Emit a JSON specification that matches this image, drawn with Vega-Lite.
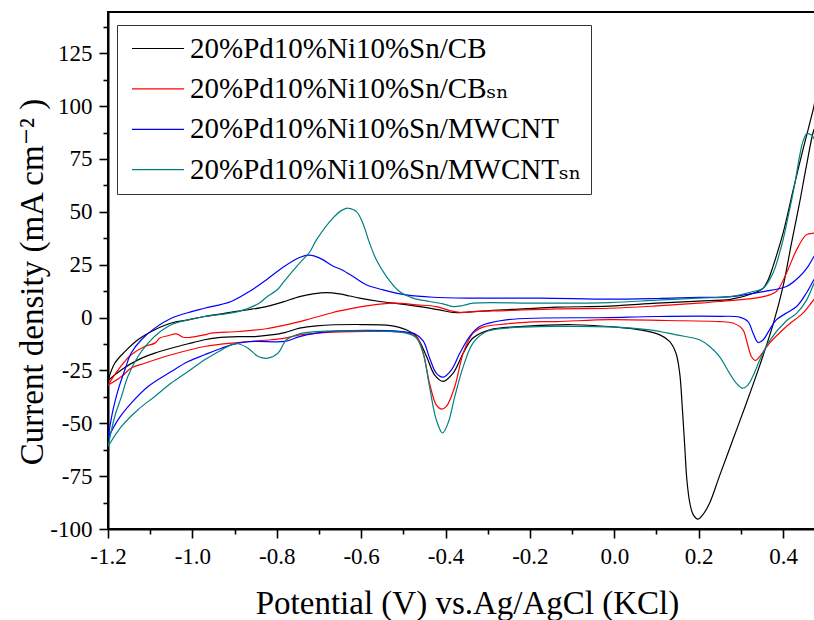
{
"$schema": "https://vega.github.io/schema/vega-lite/v6.json",
"width": 707, "height": 517,
"autosize": {"type": "none"},
"padding": {"left": 108, "top": 12, "right": 0, "bottom": 91},
"background": "white",
"config": {
 "view": {"stroke": "black", "strokeWidth": 2},
 "font": "Liberation Serif, Times New Roman, Tinos, DejaVu Serif, serif",
 "axis": {"grid": false, "domainColor": "black", "domainWidth": 2, "tickColor": "black", "tickWidth": 1.6,
  "labelColor": "black", "labelFont": "Liberation Serif, Times New Roman, Tinos, DejaVu Serif, serif", "labelFontSize": 23, "labelFlush": false, "labelOverlap": false, "labelBound": false,
  "titleFont": "Liberation Serif, Times New Roman, Tinos, DejaVu Serif, serif", "titleFontWeight": "normal", "titleColor": "black"},
 "legend": {"labelFont": "Liberation Serif, Times New Roman, Tinos, DejaVu Serif, serif"}
},
"data": {"values": [
{"s":"20%Pd10%Ni10%Sn/CB","o":1,"E":-1.2,"j":-29.8},
{"s":"20%Pd10%Ni10%Sn/CB","o":2,"E":-1.184,"j":-21.6},
{"s":"20%Pd10%Ni10%Sn/CB","o":3,"E":-1.16,"j":-16.1},
{"s":"20%Pd10%Ni10%Sn/CB","o":4,"E":-1.129,"j":-10.5},
{"s":"20%Pd10%Ni10%Sn/CB","o":5,"E":-1.089,"j":-5.8},
{"s":"20%Pd10%Ni10%Sn/CB","o":6,"E":-1.05,"j":-2.6},
{"s":"20%Pd10%Ni10%Sn/CB","o":7,"E":-1.01,"j":-1.1},
{"s":"20%Pd10%Ni10%Sn/CB","o":8,"E":-0.971,"j":0.5},
{"s":"20%Pd10%Ni10%Sn/CB","o":9,"E":-0.93,"j":1.8},
{"s":"20%Pd10%Ni10%Sn/CB","o":10,"E":-0.892,"j":3.0},
{"s":"20%Pd10%Ni10%Sn/CB","o":11,"E":-0.864,"j":3.8},
{"s":"20%Pd10%Ni10%Sn/CB","o":12,"E":-0.825,"j":5.2},
{"s":"20%Pd10%Ni10%Sn/CB","o":13,"E":-0.785,"j":7.4},
{"s":"20%Pd10%Ni10%Sn/CB","o":14,"E":-0.746,"j":9.9},
{"s":"20%Pd10%Ni10%Sn/CB","o":15,"E":-0.714,"j":11.2},
{"s":"20%Pd10%Ni10%Sn/CB","o":16,"E":-0.682,"j":11.8},
{"s":"20%Pd10%Ni10%Sn/CB","o":17,"E":-0.651,"j":11.2},
{"s":"20%Pd10%Ni10%Sn/CB","o":18,"E":-0.627,"j":10.2},
{"s":"20%Pd10%Ni10%Sn/CB","o":19,"E":-0.604,"j":9.2},
{"s":"20%Pd10%Ni10%Sn/CB","o":20,"E":-0.556,"j":7.6},
{"s":"20%Pd10%Ni10%Sn/CB","o":21,"E":-0.509,"j":6.5},
{"s":"20%Pd10%Ni10%Sn/CB","o":22,"E":-0.461,"j":5.2},
{"s":"20%Pd10%Ni10%Sn/CB","o":23,"E":-0.414,"j":3.6},
{"s":"20%Pd10%Ni10%Sn/CB","o":24,"E":-0.382,"j":2.4},
{"s":"20%Pd10%Ni10%Sn/CB","o":25,"E":-0.351,"j":2.5},
{"s":"20%Pd10%Ni10%Sn/CB","o":26,"E":-0.295,"j":3.3},
{"s":"20%Pd10%Ni10%Sn/CB","o":27,"E":-0.216,"j":4.1},
{"s":"20%Pd10%Ni10%Sn/CB","o":28,"E":-0.137,"j":4.9},
{"s":"20%Pd10%Ni10%Sn/CB","o":29,"E":-0.011,"j":5.4},
{"s":"20%Pd10%Ni10%Sn/CB","o":30,"E":0.1,"j":6.8},
{"s":"20%Pd10%Ni10%Sn/CB","o":31,"E":0.2,"j":7.8},
{"s":"20%Pd10%Ni10%Sn/CB","o":32,"E":0.275,"j":8.6},
{"s":"20%Pd10%Ni10%Sn/CB","o":33,"E":0.33,"j":11.5},
{"s":"20%Pd10%Ni10%Sn/CB","o":34,"E":0.353,"j":13.9},
{"s":"20%Pd10%Ni10%Sn/CB","o":35,"E":0.365,"j":18},
{"s":"20%Pd10%Ni10%Sn/CB","o":36,"E":0.376,"j":24.1},
{"s":"20%Pd10%Ni10%Sn/CB","o":37,"E":0.4,"j":39.9},
{"s":"20%Pd10%Ni10%Sn/CB","o":38,"E":0.424,"j":60.4},
{"s":"20%Pd10%Ni10%Sn/CB","o":39,"E":0.447,"j":79.3},
{"s":"20%Pd10%Ni10%Sn/CB","o":40,"E":0.473,"j":99.7},
{"s":"20%Pd10%Ni10%Sn/CB","o":41,"E":0.477,"j":104},
{"s":"20%Pd10%Ni10%Sn/CB","o":42,"E":0.477,"j":90},
{"s":"20%Pd10%Ni10%Sn/CB","o":43,"E":0.473,"j":88.7},
{"s":"20%Pd10%Ni10%Sn/CB","o":44,"E":0.455,"j":71.4},
{"s":"20%Pd10%Ni10%Sn/CB","o":45,"E":0.439,"j":54.1},
{"s":"20%Pd10%Ni10%Sn/CB","o":46,"E":0.42,"j":35.2},
{"s":"20%Pd10%Ni10%Sn/CB","o":47,"E":0.4,"j":14.7},
{"s":"20%Pd10%Ni10%Sn/CB","o":48,"E":0.376,"j":-3.5},
{"s":"20%Pd10%Ni10%Sn/CB","o":49,"E":0.345,"j":-22.5},
{"s":"20%Pd10%Ni10%Sn/CB","o":50,"E":0.313,"j":-40.5},
{"s":"20%Pd10%Ni10%Sn/CB","o":51,"E":0.281,"j":-57.8},
{"s":"20%Pd10%Ni10%Sn/CB","o":52,"E":0.249,"j":-75.1},
{"s":"20%Pd10%Ni10%Sn/CB","o":53,"E":0.226,"j":-87.7},
{"s":"20%Pd10%Ni10%Sn/CB","o":54,"E":0.21,"j":-93.2},
{"s":"20%Pd10%Ni10%Sn/CB","o":55,"E":0.198,"j":-95.3},
{"s":"20%Pd10%Ni10%Sn/CB","o":56,"E":0.187,"j":-93.2},
{"s":"20%Pd10%Ni10%Sn/CB","o":57,"E":0.179,"j":-87.7},
{"s":"20%Pd10%Ni10%Sn/CB","o":58,"E":0.172,"j":-76.7},
{"s":"20%Pd10%Ni10%Sn/CB","o":59,"E":0.167,"j":-61},
{"s":"20%Pd10%Ni10%Sn/CB","o":60,"E":0.161,"j":-42},
{"s":"20%Pd10%Ni10%Sn/CB","o":61,"E":0.155,"j":-26.3},
{"s":"20%Pd10%Ni10%Sn/CB","o":62,"E":0.146,"j":-16.8},
{"s":"20%Pd10%Ni10%Sn/CB","o":63,"E":0.131,"j":-11.3},
{"s":"20%Pd10%Ni10%Sn/CB","o":64,"E":0.108,"j":-8.2},
{"s":"20%Pd10%Ni10%Sn/CB","o":65,"E":0.06,"j":-5.8},
{"s":"20%Pd10%Ni10%Sn/CB","o":66,"E":0.005,"j":-4.5},
{"s":"20%Pd10%Ni10%Sn/CB","o":67,"E":-0.098,"j":-3.4},
{"s":"20%Pd10%Ni10%Sn/CB","o":68,"E":-0.216,"j":-4.2},
{"s":"20%Pd10%Ni10%Sn/CB","o":69,"E":-0.295,"j":-5.8},
{"s":"20%Pd10%Ni10%Sn/CB","o":70,"E":-0.335,"j":-9.7},
{"s":"20%Pd10%Ni10%Sn/CB","o":71,"E":-0.358,"j":-16.8},
{"s":"20%Pd10%Ni10%Sn/CB","o":72,"E":-0.382,"j":-26.3},
{"s":"20%Pd10%Ni10%Sn/CB","o":73,"E":-0.406,"j":-30.2},
{"s":"20%Pd10%Ni10%Sn/CB","o":74,"E":-0.426,"j":-27.1},
{"s":"20%Pd10%Ni10%Sn/CB","o":75,"E":-0.445,"j":-18.4},
{"s":"20%Pd10%Ni10%Sn/CB","o":76,"E":-0.469,"j":-9},
{"s":"20%Pd10%Ni10%Sn/CB","o":77,"E":-0.493,"j":-5.8},
{"s":"20%Pd10%Ni10%Sn/CB","o":78,"E":-0.53,"j":-3.8},
{"s":"20%Pd10%Ni10%Sn/CB","o":79,"E":-0.6,"j":-3.3},
{"s":"20%Pd10%Ni10%Sn/CB","o":80,"E":-0.706,"j":-3.9},
{"s":"20%Pd10%Ni10%Sn/CB","o":81,"E":-0.746,"j":-5},
{"s":"20%Pd10%Ni10%Sn/CB","o":82,"E":-0.781,"j":-7.1},
{"s":"20%Pd10%Ni10%Sn/CB","o":83,"E":-0.813,"j":-8.2},
{"s":"20%Pd10%Ni10%Sn/CB","o":84,"E":-0.852,"j":-9},
{"s":"20%Pd10%Ni10%Sn/CB","o":85,"E":-0.892,"j":-9},
{"s":"20%Pd10%Ni10%Sn/CB","o":86,"E":-0.943,"j":-9.6},
{"s":"20%Pd10%Ni10%Sn/CB","o":87,"E":-0.971,"j":-10.5},
{"s":"20%Pd10%Ni10%Sn/CB","o":88,"E":-1.01,"j":-12.4},
{"s":"20%Pd10%Ni10%Sn/CB","o":89,"E":-1.05,"j":-14.5},
{"s":"20%Pd10%Ni10%Sn/CB","o":90,"E":-1.089,"j":-16.8},
{"s":"20%Pd10%Ni10%Sn/CB","o":91,"E":-1.129,"j":-20},
{"s":"20%Pd10%Ni10%Sn/CB","o":92,"E":-1.168,"j":-24.7},
{"s":"20%Pd10%Ni10%Sn/CB","o":93,"E":-1.2,"j":-29.8},
{"s":"20%Pd10%Ni10%Sn/CBₛₙ","o":1,"E":-1.2,"j":-32},
{"s":"20%Pd10%Ni10%Sn/CBₛₙ","o":2,"E":-1.176,"j":-24.7},
{"s":"20%Pd10%Ni10%Sn/CBₛₙ","o":3,"E":-1.145,"j":-17.6},
{"s":"20%Pd10%Ni10%Sn/CBₛₙ","o":4,"E":-1.113,"j":-13.7},
{"s":"20%Pd10%Ni10%Sn/CBₛₙ","o":5,"E":-1.089,"j":-12.1},
{"s":"20%Pd10%Ni10%Sn/CBₛₙ","o":6,"E":-1.077,"j":-9.7},
{"s":"20%Pd10%Ni10%Sn/CBₛₙ","o":7,"E":-1.058,"j":-8.6},
{"s":"20%Pd10%Ni10%Sn/CBₛₙ","o":8,"E":-1.038,"j":-7.7},
{"s":"20%Pd10%Ni10%Sn/CBₛₙ","o":9,"E":-1.022,"j":-9.3},
{"s":"20%Pd10%Ni10%Sn/CBₛₙ","o":10,"E":-1.002,"j":-9.3},
{"s":"20%Pd10%Ni10%Sn/CBₛₙ","o":11,"E":-0.971,"j":-8.2},
{"s":"20%Pd10%Ni10%Sn/CBₛₙ","o":12,"E":-0.955,"j":-7.4},
{"s":"20%Pd10%Ni10%Sn/CBₛₙ","o":13,"E":-0.892,"j":-6.6},
{"s":"20%Pd10%Ni10%Sn/CBₛₙ","o":14,"E":-0.825,"j":-5.3},
{"s":"20%Pd10%Ni10%Sn/CBₛₙ","o":15,"E":-0.781,"j":-3.6},
{"s":"20%Pd10%Ni10%Sn/CBₛₙ","o":16,"E":-0.73,"j":-1.1},
{"s":"20%Pd10%Ni10%Sn/CBₛₙ","o":17,"E":-0.667,"j":2.4},
{"s":"20%Pd10%Ni10%Sn/CBₛₙ","o":18,"E":-0.627,"j":4.1},
{"s":"20%Pd10%Ni10%Sn/CBₛₙ","o":19,"E":-0.588,"j":5.5},
{"s":"20%Pd10%Ni10%Sn/CBₛₙ","o":20,"E":-0.524,"j":6.8},
{"s":"20%Pd10%Ni10%Sn/CBₛₙ","o":21,"E":-0.469,"j":6.0},
{"s":"20%Pd10%Ni10%Sn/CBₛₙ","o":22,"E":-0.422,"j":5.2},
{"s":"20%Pd10%Ni10%Sn/CBₛₙ","o":23,"E":-0.39,"j":3.3},
{"s":"20%Pd10%Ni10%Sn/CBₛₙ","o":24,"E":-0.366,"j":2.4},
{"s":"20%Pd10%Ni10%Sn/CBₛₙ","o":25,"E":-0.335,"j":2.8},
{"s":"20%Pd10%Ni10%Sn/CBₛₙ","o":26,"E":-0.256,"j":3.3},
{"s":"20%Pd10%Ni10%Sn/CBₛₙ","o":27,"E":-0.137,"j":4.1},
{"s":"20%Pd10%Ni10%Sn/CBₛₙ","o":28,"E":-0.011,"j":4.4},
{"s":"20%Pd10%Ni10%Sn/CBₛₙ","o":29,"E":0.1,"j":5.5},
{"s":"20%Pd10%Ni10%Sn/CBₛₙ","o":30,"E":0.2,"j":6.8},
{"s":"20%Pd10%Ni10%Sn/CBₛₙ","o":31,"E":0.249,"j":7.6},
{"s":"20%Pd10%Ni10%Sn/CBₛₙ","o":32,"E":0.353,"j":9.9},
{"s":"20%Pd10%Ni10%Sn/CBₛₙ","o":33,"E":0.384,"j":12.3},
{"s":"20%Pd10%Ni10%Sn/CBₛₙ","o":34,"E":0.408,"j":21},
{"s":"20%Pd10%Ni10%Sn/CBₛₙ","o":35,"E":0.432,"j":32},
{"s":"20%Pd10%Ni10%Sn/CBₛₙ","o":36,"E":0.455,"j":39.1},
{"s":"20%Pd10%Ni10%Sn/CBₛₙ","o":37,"E":0.473,"j":39.9},
{"s":"20%Pd10%Ni10%Sn/CBₛₙ","o":38,"E":0.477,"j":40},
{"s":"20%Pd10%Ni10%Sn/CBₛₙ","o":39,"E":0.477,"j":9},
{"s":"20%Pd10%Ni10%Sn/CBₛₙ","o":40,"E":0.473,"j":8.4},
{"s":"20%Pd10%Ni10%Sn/CBₛₙ","o":41,"E":0.447,"j":2.1},
{"s":"20%Pd10%Ni10%Sn/CBₛₙ","o":42,"E":0.408,"j":-4.2},
{"s":"20%Pd10%Ni10%Sn/CBₛₙ","o":43,"E":0.368,"j":-12.1},
{"s":"20%Pd10%Ni10%Sn/CBₛₙ","o":44,"E":0.345,"j":-18.4},
{"s":"20%Pd10%Ni10%Sn/CBₛₙ","o":45,"E":0.335,"j":-20.3},
{"s":"20%Pd10%Ni10%Sn/CBₛₙ","o":46,"E":0.325,"j":-18.4},
{"s":"20%Pd10%Ni10%Sn/CBₛₙ","o":47,"E":0.313,"j":-10.5},
{"s":"20%Pd10%Ni10%Sn/CBₛₙ","o":48,"E":0.305,"j":-5.8},
{"s":"20%Pd10%Ni10%Sn/CBₛₙ","o":49,"E":0.281,"j":-2.6},
{"s":"20%Pd10%Ni10%Sn/CBₛₙ","o":50,"E":0.249,"j":-1.9},
{"s":"20%Pd10%Ni10%Sn/CBₛₙ","o":51,"E":0.124,"j":-1.4},
{"s":"20%Pd10%Ni10%Sn/CBₛₙ","o":52,"E":-0.011,"j":-1.0},
{"s":"20%Pd10%Ni10%Sn/CBₛₙ","o":53,"E":-0.137,"j":-1.9},
{"s":"20%Pd10%Ni10%Sn/CBₛₙ","o":54,"E":-0.193,"j":-2.0},
{"s":"20%Pd10%Ni10%Sn/CBₛₙ","o":55,"E":-0.256,"j":-3.0},
{"s":"20%Pd10%Ni10%Sn/CBₛₙ","o":56,"E":-0.311,"j":-4.5},
{"s":"20%Pd10%Ni10%Sn/CBₛₙ","o":57,"E":-0.335,"j":-7.4},
{"s":"20%Pd10%Ni10%Sn/CBₛₙ","o":58,"E":-0.358,"j":-16.8},
{"s":"20%Pd10%Ni10%Sn/CBₛₙ","o":59,"E":-0.378,"j":-32.6},
{"s":"20%Pd10%Ni10%Sn/CBₛₙ","o":60,"E":-0.398,"j":-42},
{"s":"20%Pd10%Ni10%Sn/CBₛₙ","o":61,"E":-0.41,"j":-43.3},
{"s":"20%Pd10%Ni10%Sn/CBₛₙ","o":62,"E":-0.422,"j":-41.3},
{"s":"20%Pd10%Ni10%Sn/CBₛₙ","o":63,"E":-0.438,"j":-31},
{"s":"20%Pd10%Ni10%Sn/CBₛₙ","o":64,"E":-0.453,"j":-16.8},
{"s":"20%Pd10%Ni10%Sn/CBₛₙ","o":65,"E":-0.469,"j":-9},
{"s":"20%Pd10%Ni10%Sn/CBₛₙ","o":66,"E":-0.493,"j":-7.1},
{"s":"20%Pd10%Ni10%Sn/CBₛₙ","o":67,"E":-0.572,"j":-6.6},
{"s":"20%Pd10%Ni10%Sn/CBₛₙ","o":68,"E":-0.651,"j":-6.8},
{"s":"20%Pd10%Ni10%Sn/CBₛₙ","o":69,"E":-0.706,"j":-7.4},
{"s":"20%Pd10%Ni10%Sn/CBₛₙ","o":70,"E":-0.746,"j":-8.2},
{"s":"20%Pd10%Ni10%Sn/CBₛₙ","o":71,"E":-0.781,"j":-9.7},
{"s":"20%Pd10%Ni10%Sn/CBₛₙ","o":72,"E":-0.813,"j":-10.5},
{"s":"20%Pd10%Ni10%Sn/CBₛₙ","o":73,"E":-0.892,"j":-11.8},
{"s":"20%Pd10%Ni10%Sn/CBₛₙ","o":74,"E":-0.971,"j":-13.7},
{"s":"20%Pd10%Ni10%Sn/CBₛₙ","o":75,"E":-1.05,"j":-17.6},
{"s":"20%Pd10%Ni10%Sn/CBₛₙ","o":76,"E":-1.113,"j":-21.6},
{"s":"20%Pd10%Ni10%Sn/CBₛₙ","o":77,"E":-1.145,"j":-23.9},
{"s":"20%Pd10%Ni10%Sn/CBₛₙ","o":78,"E":-1.168,"j":-27.9},
{"s":"20%Pd10%Ni10%Sn/CBₛₙ","o":79,"E":-1.2,"j":-32},
{"s":"20%Pd10%Ni10%Sn/MWCNT","o":1,"E":-1.2,"j":-57},
{"s":"20%Pd10%Ni10%Sn/MWCNT","o":2,"E":-1.188,"j":-43.6},
{"s":"20%Pd10%Ni10%Sn/MWCNT","o":3,"E":-1.176,"j":-34.2},
{"s":"20%Pd10%Ni10%Sn/MWCNT","o":4,"E":-1.16,"j":-24.7},
{"s":"20%Pd10%Ni10%Sn/MWCNT","o":5,"E":-1.145,"j":-16.8},
{"s":"20%Pd10%Ni10%Sn/MWCNT","o":6,"E":-1.121,"j":-10.5},
{"s":"20%Pd10%Ni10%Sn/MWCNT","o":7,"E":-1.089,"j":-5.0},
{"s":"20%Pd10%Ni10%Sn/MWCNT","o":8,"E":-1.05,"j":-0.3},
{"s":"20%Pd10%Ni10%Sn/MWCNT","o":9,"E":-1.002,"j":2.8},
{"s":"20%Pd10%Ni10%Sn/MWCNT","o":10,"E":-0.971,"j":4.4},
{"s":"20%Pd10%Ni10%Sn/MWCNT","o":11,"E":-0.908,"j":7.6},
{"s":"20%Pd10%Ni10%Sn/MWCNT","o":12,"E":-0.862,"j":12.7},
{"s":"20%Pd10%Ni10%Sn/MWCNT","o":13,"E":-0.825,"j":17.8},
{"s":"20%Pd10%Ni10%Sn/MWCNT","o":14,"E":-0.785,"j":23.8},
{"s":"20%Pd10%Ni10%Sn/MWCNT","o":15,"E":-0.746,"j":28.4},
{"s":"20%Pd10%Ni10%Sn/MWCNT","o":16,"E":-0.722,"j":29.5},
{"s":"20%Pd10%Ni10%Sn/MWCNT","o":17,"E":-0.698,"j":28.1},
{"s":"20%Pd10%Ni10%Sn/MWCNT","o":18,"E":-0.667,"j":24.4},
{"s":"20%Pd10%Ni10%Sn/MWCNT","o":19,"E":-0.645,"j":22.5},
{"s":"20%Pd10%Ni10%Sn/MWCNT","o":20,"E":-0.619,"j":19.4},
{"s":"20%Pd10%Ni10%Sn/MWCNT","o":21,"E":-0.588,"j":15.5},
{"s":"20%Pd10%Ni10%Sn/MWCNT","o":22,"E":-0.548,"j":13.1},
{"s":"20%Pd10%Ni10%Sn/MWCNT","o":23,"E":-0.493,"j":10.7},
{"s":"20%Pd10%Ni10%Sn/MWCNT","o":24,"E":-0.43,"j":9.6},
{"s":"20%Pd10%Ni10%Sn/MWCNT","o":25,"E":-0.335,"j":9.2},
{"s":"20%Pd10%Ni10%Sn/MWCNT","o":26,"E":-0.177,"j":9.2},
{"s":"20%Pd10%Ni10%Sn/MWCNT","o":27,"E":-0.011,"j":8.7},
{"s":"20%Pd10%Ni10%Sn/MWCNT","o":28,"E":0.1,"j":9.0},
{"s":"20%Pd10%Ni10%Sn/MWCNT","o":29,"E":0.2,"j":9.5},
{"s":"20%Pd10%Ni10%Sn/MWCNT","o":30,"E":0.275,"j":9.9},
{"s":"20%Pd10%Ni10%Sn/MWCNT","o":31,"E":0.353,"j":12.3},
{"s":"20%Pd10%Ni10%Sn/MWCNT","o":32,"E":0.408,"j":14.7},
{"s":"20%Pd10%Ni10%Sn/MWCNT","o":33,"E":0.439,"j":19.4},
{"s":"20%Pd10%Ni10%Sn/MWCNT","o":34,"E":0.459,"j":24.1},
{"s":"20%Pd10%Ni10%Sn/MWCNT","o":35,"E":0.473,"j":28.8},
{"s":"20%Pd10%Ni10%Sn/MWCNT","o":36,"E":0.477,"j":30},
{"s":"20%Pd10%Ni10%Sn/MWCNT","o":37,"E":0.477,"j":19},
{"s":"20%Pd10%Ni10%Sn/MWCNT","o":38,"E":0.473,"j":17.8},
{"s":"20%Pd10%Ni10%Sn/MWCNT","o":39,"E":0.455,"j":11.5},
{"s":"20%Pd10%Ni10%Sn/MWCNT","o":40,"E":0.432,"j":5.2},
{"s":"20%Pd10%Ni10%Sn/MWCNT","o":41,"E":0.408,"j":2.1},
{"s":"20%Pd10%Ni10%Sn/MWCNT","o":42,"E":0.384,"j":-1.1},
{"s":"20%Pd10%Ni10%Sn/MWCNT","o":43,"E":0.368,"j":-5.8},
{"s":"20%Pd10%Ni10%Sn/MWCNT","o":44,"E":0.353,"j":-10.5},
{"s":"20%Pd10%Ni10%Sn/MWCNT","o":45,"E":0.341,"j":-11.8},
{"s":"20%Pd10%Ni10%Sn/MWCNT","o":46,"E":0.329,"j":-7.4},
{"s":"20%Pd10%Ni10%Sn/MWCNT","o":47,"E":0.317,"j":-1.9},
{"s":"20%Pd10%Ni10%Sn/MWCNT","o":48,"E":0.297,"j":0.2},
{"s":"20%Pd10%Ni10%Sn/MWCNT","o":49,"E":0.249,"j":0.6},
{"s":"20%Pd10%Ni10%Sn/MWCNT","o":50,"E":0.1,"j":0.5},
{"s":"20%Pd10%Ni10%Sn/MWCNT","o":51,"E":-0.011,"j":0},
{"s":"20%Pd10%Ni10%Sn/MWCNT","o":52,"E":-0.256,"j":-1.1},
{"s":"20%Pd10%Ni10%Sn/MWCNT","o":53,"E":-0.319,"j":-4.2},
{"s":"20%Pd10%Ni10%Sn/MWCNT","o":54,"E":-0.343,"j":-9.0},
{"s":"20%Pd10%Ni10%Sn/MWCNT","o":55,"E":-0.366,"j":-16.8},
{"s":"20%Pd10%Ni10%Sn/MWCNT","o":56,"E":-0.386,"j":-24.7},
{"s":"20%Pd10%Ni10%Sn/MWCNT","o":57,"E":-0.406,"j":-28.2},
{"s":"20%Pd10%Ni10%Sn/MWCNT","o":58,"E":-0.422,"j":-26.3},
{"s":"20%Pd10%Ni10%Sn/MWCNT","o":59,"E":-0.438,"j":-19},
{"s":"20%Pd10%Ni10%Sn/MWCNT","o":60,"E":-0.453,"j":-11},
{"s":"20%Pd10%Ni10%Sn/MWCNT","o":61,"E":-0.473,"j":-7.7},
{"s":"20%Pd10%Ni10%Sn/MWCNT","o":62,"E":-0.509,"j":-6.5},
{"s":"20%Pd10%Ni10%Sn/MWCNT","o":63,"E":-0.651,"j":-6.3},
{"s":"20%Pd10%Ni10%Sn/MWCNT","o":64,"E":-0.706,"j":-7.4},
{"s":"20%Pd10%Ni10%Sn/MWCNT","o":65,"E":-0.746,"j":-9.0},
{"s":"20%Pd10%Ni10%Sn/MWCNT","o":66,"E":-0.781,"j":-11.3},
{"s":"20%Pd10%Ni10%Sn/MWCNT","o":67,"E":-0.852,"j":-11.3},
{"s":"20%Pd10%Ni10%Sn/MWCNT","o":68,"E":-0.892,"j":-12.1},
{"s":"20%Pd10%Ni10%Sn/MWCNT","o":69,"E":-0.931,"j":-14.5},
{"s":"20%Pd10%Ni10%Sn/MWCNT","o":70,"E":-0.971,"j":-17.6},
{"s":"20%Pd10%Ni10%Sn/MWCNT","o":71,"E":-1.01,"j":-20.8},
{"s":"20%Pd10%Ni10%Sn/MWCNT","o":72,"E":-1.05,"j":-25.5},
{"s":"20%Pd10%Ni10%Sn/MWCNT","o":73,"E":-1.105,"j":-32.6},
{"s":"20%Pd10%Ni10%Sn/MWCNT","o":74,"E":-1.145,"j":-40.5},
{"s":"20%Pd10%Ni10%Sn/MWCNT","o":75,"E":-1.176,"j":-48.3},
{"s":"20%Pd10%Ni10%Sn/MWCNT","o":76,"E":-1.2,"j":-57},
{"s":"20%Pd10%Ni10%Sn/MWCNTₛₙ","o":1,"E":-1.2,"j":-61},
{"s":"20%Pd10%Ni10%Sn/MWCNTₛₙ","o":2,"E":-1.184,"j":-46.8},
{"s":"20%Pd10%Ni10%Sn/MWCNTₛₙ","o":3,"E":-1.168,"j":-37.3},
{"s":"20%Pd10%Ni10%Sn/MWCNTₛₙ","o":4,"E":-1.153,"j":-27.9},
{"s":"20%Pd10%Ni10%Sn/MWCNTₛₙ","o":5,"E":-1.129,"j":-18.4},
{"s":"20%Pd10%Ni10%Sn/MWCNTₛₙ","o":6,"E":-1.105,"j":-12.1},
{"s":"20%Pd10%Ni10%Sn/MWCNTₛₙ","o":7,"E":-1.081,"j":-7.4},
{"s":"20%Pd10%Ni10%Sn/MWCNTₛₙ","o":8,"E":-1.05,"j":-3.4},
{"s":"20%Pd10%Ni10%Sn/MWCNTₛₙ","o":9,"E":-1.01,"j":-1.1},
{"s":"20%Pd10%Ni10%Sn/MWCNTₛₙ","o":10,"E":-0.971,"j":0.5},
{"s":"20%Pd10%Ni10%Sn/MWCNTₛₙ","o":11,"E":-0.892,"j":2.8},
{"s":"20%Pd10%Ni10%Sn/MWCNTₛₙ","o":12,"E":-0.844,"j":6.5},
{"s":"20%Pd10%Ni10%Sn/MWCNTₛₙ","o":13,"E":-0.825,"j":9.5},
{"s":"20%Pd10%Ni10%Sn/MWCNTₛₙ","o":14,"E":-0.797,"j":13.5},
{"s":"20%Pd10%Ni10%Sn/MWCNTₛₙ","o":15,"E":-0.785,"j":16.5},
{"s":"20%Pd10%Ni10%Sn/MWCNTₛₙ","o":16,"E":-0.746,"j":25.7},
{"s":"20%Pd10%Ni10%Sn/MWCNTₛₙ","o":17,"E":-0.722,"j":31},
{"s":"20%Pd10%Ni10%Sn/MWCNTₛₙ","o":18,"E":-0.706,"j":36.7},
{"s":"20%Pd10%Ni10%Sn/MWCNTₛₙ","o":19,"E":-0.667,"j":47},
{"s":"20%Pd10%Ni10%Sn/MWCNTₛₙ","o":20,"E":-0.645,"j":50.8},
{"s":"20%Pd10%Ni10%Sn/MWCNTₛₙ","o":21,"E":-0.631,"j":51.7},
{"s":"20%Pd10%Ni10%Sn/MWCNTₛₙ","o":22,"E":-0.611,"j":50.1},
{"s":"20%Pd10%Ni10%Sn/MWCNTₛₙ","o":23,"E":-0.596,"j":44.6},
{"s":"20%Pd10%Ni10%Sn/MWCNTₛₙ","o":24,"E":-0.58,"j":35.2},
{"s":"20%Pd10%Ni10%Sn/MWCNTₛₙ","o":25,"E":-0.564,"j":27.3},
{"s":"20%Pd10%Ni10%Sn/MWCNTₛₙ","o":26,"E":-0.54,"j":19.4},
{"s":"20%Pd10%Ni10%Sn/MWCNTₛₙ","o":27,"E":-0.509,"j":12.3},
{"s":"20%Pd10%Ni10%Sn/MWCNTₛₙ","o":28,"E":-0.477,"j":9.2},
{"s":"20%Pd10%Ni10%Sn/MWCNTₛₙ","o":29,"E":-0.438,"j":7.6},
{"s":"20%Pd10%Ni10%Sn/MWCNTₛₙ","o":30,"E":-0.406,"j":6.5},
{"s":"20%Pd10%Ni10%Sn/MWCNTₛₙ","o":31,"E":-0.382,"j":5.2},
{"s":"20%Pd10%Ni10%Sn/MWCNTₛₙ","o":32,"E":-0.359,"j":5.7},
{"s":"20%Pd10%Ni10%Sn/MWCNTₛₙ","o":33,"E":-0.335,"j":6.8},
{"s":"20%Pd10%Ni10%Sn/MWCNTₛₙ","o":34,"E":-0.177,"j":6.8},
{"s":"20%Pd10%Ni10%Sn/MWCNTₛₙ","o":35,"E":-0.011,"j":7.1},
{"s":"20%Pd10%Ni10%Sn/MWCNTₛₙ","o":36,"E":0.1,"j":8.2},
{"s":"20%Pd10%Ni10%Sn/MWCNTₛₙ","o":37,"E":0.2,"j":9.2},
{"s":"20%Pd10%Ni10%Sn/MWCNTₛₙ","o":38,"E":0.275,"j":9.9},
{"s":"20%Pd10%Ni10%Sn/MWCNTₛₙ","o":39,"E":0.329,"j":12.3},
{"s":"20%Pd10%Ni10%Sn/MWCNTₛₙ","o":40,"E":0.353,"j":13.9},
{"s":"20%Pd10%Ni10%Sn/MWCNTₛₙ","o":41,"E":0.376,"j":21},
{"s":"20%Pd10%Ni10%Sn/MWCNTₛₙ","o":42,"E":0.396,"j":33.6},
{"s":"20%Pd10%Ni10%Sn/MWCNTₛₙ","o":43,"E":0.412,"j":47.7},
{"s":"20%Pd10%Ni10%Sn/MWCNTₛₙ","o":44,"E":0.428,"j":63.5},
{"s":"20%Pd10%Ni10%Sn/MWCNTₛₙ","o":45,"E":0.439,"j":76.1},
{"s":"20%Pd10%Ni10%Sn/MWCNTₛₙ","o":46,"E":0.447,"j":83.2},
{"s":"20%Pd10%Ni10%Sn/MWCNTₛₙ","o":47,"E":0.457,"j":87.1},
{"s":"20%Pd10%Ni10%Sn/MWCNTₛₙ","o":48,"E":0.467,"j":86.3},
{"s":"20%Pd10%Ni10%Sn/MWCNTₛₙ","o":49,"E":0.473,"j":84.8},
{"s":"20%Pd10%Ni10%Sn/MWCNTₛₙ","o":50,"E":0.477,"j":83},
{"s":"20%Pd10%Ni10%Sn/MWCNTₛₙ","o":51,"E":0.477,"j":18},
{"s":"20%Pd10%Ni10%Sn/MWCNTₛₙ","o":52,"E":0.473,"j":16},
{"s":"20%Pd10%Ni10%Sn/MWCNTₛₙ","o":53,"E":0.455,"j":8},
{"s":"20%Pd10%Ni10%Sn/MWCNTₛₙ","o":54,"E":0.432,"j":2},
{"s":"20%Pd10%Ni10%Sn/MWCNTₛₙ","o":55,"E":0.408,"j":-1.5},
{"s":"20%Pd10%Ni10%Sn/MWCNTₛₙ","o":56,"E":0.368,"j":-11},
{"s":"20%Pd10%Ni10%Sn/MWCNTₛₙ","o":57,"E":0.345,"j":-20},
{"s":"20%Pd10%Ni10%Sn/MWCNTₛₙ","o":58,"E":0.329,"j":-27.5},
{"s":"20%Pd10%Ni10%Sn/MWCNTₛₙ","o":59,"E":0.317,"j":-31.8},
{"s":"20%Pd10%Ni10%Sn/MWCNTₛₙ","o":60,"E":0.304,"j":-33.4},
{"s":"20%Pd10%Ni10%Sn/MWCNTₛₙ","o":61,"E":0.289,"j":-31},
{"s":"20%Pd10%Ni10%Sn/MWCNTₛₙ","o":62,"E":0.273,"j":-26.3},
{"s":"20%Pd10%Ni10%Sn/MWCNTₛₙ","o":63,"E":0.249,"j":-18.4},
{"s":"20%Pd10%Ni10%Sn/MWCNTₛₙ","o":64,"E":0.226,"j":-13.7},
{"s":"20%Pd10%Ni10%Sn/MWCNTₛₙ","o":65,"E":0.202,"j":-10.5},
{"s":"20%Pd10%Ni10%Sn/MWCNTₛₙ","o":66,"E":0.147,"j":-8.2},
{"s":"20%Pd10%Ni10%Sn/MWCNTₛₙ","o":67,"E":0.084,"j":-5.8},
{"s":"20%Pd10%Ni10%Sn/MWCNTₛₙ","o":68,"E":0.0,"j":-4.5},
{"s":"20%Pd10%Ni10%Sn/MWCNTₛₙ","o":69,"E":-0.137,"j":-4.2},
{"s":"20%Pd10%Ni10%Sn/MWCNTₛₙ","o":70,"E":-0.256,"j":-5.0},
{"s":"20%Pd10%Ni10%Sn/MWCNTₛₙ","o":71,"E":-0.303,"j":-6.6},
{"s":"20%Pd10%Ni10%Sn/MWCNTₛₙ","o":72,"E":-0.335,"j":-12.1},
{"s":"20%Pd10%Ni10%Sn/MWCNTₛₙ","o":73,"E":-0.358,"j":-23.2},
{"s":"20%Pd10%Ni10%Sn/MWCNTₛₙ","o":74,"E":-0.378,"j":-37.3},
{"s":"20%Pd10%Ni10%Sn/MWCNTₛₙ","o":75,"E":-0.394,"j":-49.9},
{"s":"20%Pd10%Ni10%Sn/MWCNTₛₙ","o":76,"E":-0.407,"j":-54.6},
{"s":"20%Pd10%Ni10%Sn/MWCNTₛₙ","o":77,"E":-0.422,"j":-48.3},
{"s":"20%Pd10%Ni10%Sn/MWCNTₛₙ","o":78,"E":-0.438,"j":-32.6},
{"s":"20%Pd10%Ni10%Sn/MWCNTₛₙ","o":79,"E":-0.453,"j":-16.8},
{"s":"20%Pd10%Ni10%Sn/MWCNTₛₙ","o":80,"E":-0.469,"j":-9.7},
{"s":"20%Pd10%Ni10%Sn/MWCNTₛₙ","o":81,"E":-0.493,"j":-7.4},
{"s":"20%Pd10%Ni10%Sn/MWCNTₛₙ","o":82,"E":-0.627,"j":-6.3},
{"s":"20%Pd10%Ni10%Sn/MWCNTₛₙ","o":83,"E":-0.706,"j":-6.6},
{"s":"20%Pd10%Ni10%Sn/MWCNTₛₙ","o":84,"E":-0.746,"j":-7.7},
{"s":"20%Pd10%Ni10%Sn/MWCNTₛₙ","o":85,"E":-0.777,"j":-10.5},
{"s":"20%Pd10%Ni10%Sn/MWCNTₛₙ","o":86,"E":-0.797,"j":-16.8},
{"s":"20%Pd10%Ni10%Sn/MWCNTₛₙ","o":87,"E":-0.821,"j":-19.2},
{"s":"20%Pd10%Ni10%Sn/MWCNTₛₙ","o":88,"E":-0.844,"j":-18.4},
{"s":"20%Pd10%Ni10%Sn/MWCNTₛₙ","o":89,"E":-0.868,"j":-14.5},
{"s":"20%Pd10%Ni10%Sn/MWCNTₛₙ","o":90,"E":-0.892,"j":-12.4},
{"s":"20%Pd10%Ni10%Sn/MWCNTₛₙ","o":91,"E":-0.908,"j":-12.9},
{"s":"20%Pd10%Ni10%Sn/MWCNTₛₙ","o":92,"E":-0.931,"j":-15.3},
{"s":"20%Pd10%Ni10%Sn/MWCNTₛₙ","o":93,"E":-0.971,"j":-20},
{"s":"20%Pd10%Ni10%Sn/MWCNTₛₙ","o":94,"E":-1.01,"j":-25.5},
{"s":"20%Pd10%Ni10%Sn/MWCNTₛₙ","o":95,"E":-1.05,"j":-31},
{"s":"20%Pd10%Ni10%Sn/MWCNTₛₙ","o":96,"E":-1.089,"j":-37.3},
{"s":"20%Pd10%Ni10%Sn/MWCNTₛₙ","o":97,"E":-1.129,"j":-43.6},
{"s":"20%Pd10%Ni10%Sn/MWCNTₛₙ","o":98,"E":-1.168,"j":-51.5},
{"s":"20%Pd10%Ni10%Sn/MWCNTₛₙ","o":99,"E":-1.2,"j":-61}
]},
"mark": {"type": "line", "interpolate": "catmull-rom", "strokeWidth": 1.2, "clip": true},
"encoding": {
 "x": {"field": "E", "type": "quantitative",
  "scale": {"domain": [-1.2, 0.4757], "nice": false, "zero": false},
  "axis": {"values": [-1.2,-1.1,-1.0,-0.9,-0.8,-0.7,-0.6,-0.5,-0.4,-0.3,-0.2,-0.1,0,0.1,0.2,0.3,0.4],
   "labelExpr": "round(datum.value*10) % 2 == 0 ? replace(format(datum.value, '.1f'), '\u2212', '-') : ''",
   "tickSize": {"condition": {"test": "round(datum.value*10) % 2 == 0", "value": 9}, "value": 5},
   "labelPadding": 7,
   "title": "Potential (V) vs.Ag/AgCl (KCl)", "titleFontSize": 33, "titleBaseline": "alphabetic", "titleX": 359, "titleY": 84}},
 "y": {"field": "j", "type": "quantitative",
  "scale": {"domain": [-100, 144.5], "nice": false, "zero": false},
  "axis": {"values": [-100,-87.5,-75,-62.5,-50,-37.5,-25,-12.5,0,12.5,25,37.5,50,62.5,75,87.5,100,112.5,125,137.5],
   "labelExpr": "datum.value % 25 == 0 ? replace(format(datum.value, 'd'), '\u2212', '-') : ''",
   "tickSize": {"condition": {"test": "datum.value % 25 == 0", "value": 9}, "value": 5},
   "labelPadding": 7,
   "title": "Current density (mA cm⁻² )", "titleFontSize": 33, "titleBaseline": "alphabetic", "titleAngle": 270, "titleAlign": "center", "titleX": -66, "titleY": 269.5}},
 "color": {"field": "s", "type": "nominal",
  "scale": {"domain": ["20%Pd10%Ni10%Sn/CB", "20%Pd10%Ni10%Sn/CBₛₙ", "20%Pd10%Ni10%Sn/MWCNT", "20%Pd10%Ni10%Sn/MWCNTₛₙ"], "range": ["#000000", "#ff0000", "#0000ff", "#008080"]},
  "legend": {"title": null, "orient": "none", "legendX": 9, "legendY": 13, "padding": 9, "strokeColor": "#333333", "fillColor": "white",
   "symbolType": "stroke", "symbolSize": 2704, "symbolStrokeWidth": 1.2, "symbolOffset": 5, "clipHeight": 29,
   "labelFontSize": 29, "labelColor": "black", "labelOffset": 5, "rowPadding": 10.4, "labelLimit": 1000}},
 "order": {"field": "o", "type": "quantitative"}
}
}
